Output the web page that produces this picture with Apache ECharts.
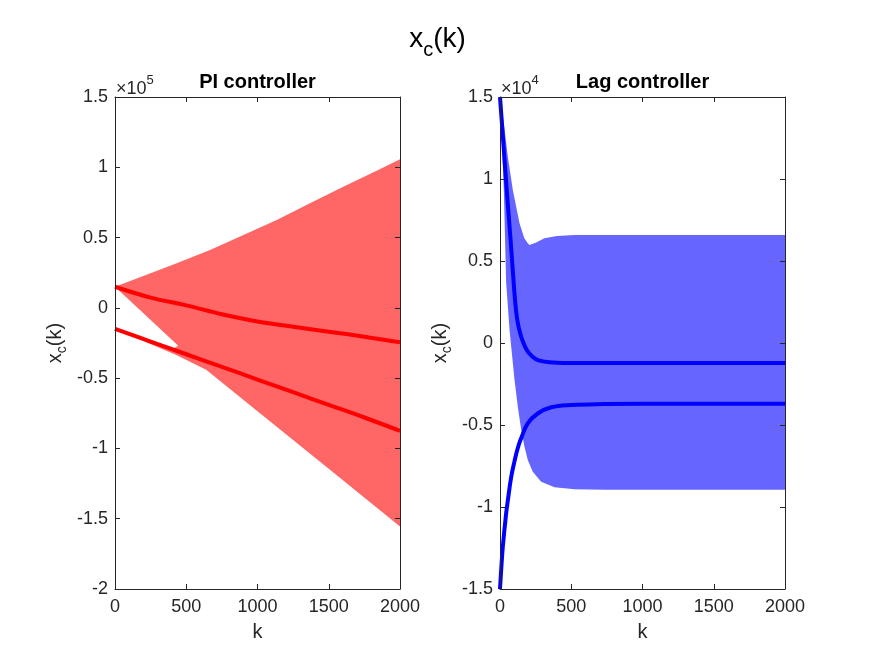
<!DOCTYPE html>
<html><head><meta charset="utf-8">
<script src="https://cdn.jsdelivr.net/npm/echarts@6/dist/echarts.min.js"></script>
<style>html,body{margin:0;padding:0;background:#fff}#c{width:875px;height:656px}</style>
</head><body><div id="c"></div>
<script>
// ---------- data ----------
const kTicks = ['0', '500', '1000', '1500', '2000'];
const piTicks = ['-2', '-1.5', '-1', '-0.5', '0', '0.5', '1', '1.5'];
const lagTicks = ['-1.5', '-1', '-0.5', '0', '0.5', '1', '1.5'];

// PI controller: two state trajectories
const piLineK = [0, 250, 500, 750, 1000, 1250, 1500, 1750, 2000];
const piLine1 = [15000, 7300, 1800, -4500, -9700, -13500, -17000, -20500, -24500];
const piLine2 = [-15000, -24000, -33000, -42000, -51000, -60000, -69000, -78000, -87500];
// PI controller: oscillation envelope (upper edge, then lower edge back to start)
const piUpperK = [0, 199, 433, 667, 901, 1135, 1368, 1602, 1836, 2000];
const piUpperV = [15000, 22700, 31700, 41200, 51800, 62500, 74400, 86200, 97600, 105700];
const piLowerK = [2000, 1500, 1000, 640, 430, 200, 0, 0, 200, 400, 444];
const piLowerV = [-155500, -114500, -73500, -44000, -33500, -23500, -16000, -15000, -22300, -29500, -27000];

// Lag controller: two state trajectories
const lagLine1K = [0, 25, 50, 75, 100, 115, 130, 150, 175, 200, 250, 300, 400, 600, 1000, 1500, 2000];
const lagLine1 = [15000, 12000, 9000, 6200, 3200, 1800, 1000, 350, -200, -580, -980, -1120, -1200, -1220, -1220, -1220, -1220];
const lagLine2K = [0, 10, 20, 43, 55, 78, 102, 125, 149, 195, 265, 359, 500, 733, 1000, 2000];
const lagLine2 = [-15000, -13600, -12400, -10400, -9600, -8200, -7200, -6400, -5800, -4900, -4300, -3920, -3780, -3720, -3700, -3700];
// Lag controller: oscillation envelope
const lagUpperK = [0, 27, 55, 90, 137, 170, 195, 207, 250, 312, 400, 523, 2000];
const lagUpperV = [15000, 13400, 11360, 9330, 7300, 6400, 6080, 5980, 6120, 6380, 6520, 6590, 6590];
const lagLowerK = [2000, 733, 523, 382, 289, 230, 195, 172, 149, 125, 102, 67, 43, 27, 13, 0];
const lagLowerV = [-8950, -8950, -8920, -8800, -8460, -7850, -7130, -6320, -5300, -3880, -2260, 790, 3700, 9300, 12400, 15000];

// ---------- helpers ----------
const FONT = 'Liberation Sans, Arial, Helvetica, sans-serif';
const AX = '#262626';
const pairs = (ks, vs) => ks.map((k, i) => [k, vs[i]]);
const piOutline = pairs(piUpperK, piUpperV).concat(pairs(piLowerK, piLowerV));
const lagOutline = pairs(lagUpperK, lagUpperV).concat(pairs(lagLowerK, lagLowerV));

const chart = echarts.init(document.getElementById('c'), null, {renderer: 'canvas'});

function xAx(grid, pos) {
  const bottom = pos === 'bottom';
  return {
    type: 'value', gridIndex: grid, position: pos, min: 0, max: 2000, interval: 500, z: 5,
    axisLine: {show: true, onZero: false, lineStyle: {color: AX, width: 1}},
    axisTick: {show: true, inside: true, length: 5, lineStyle: {color: AX}},
    axisLabel: {show: bottom, color: AX, fontSize: 18, fontFamily: FONT, margin: 9,
      formatter: v => kTicks[Math.round(v / 500)]},
    splitLine: {show: false},
    name: bottom ? 'k' : '', nameLocation: 'middle', nameGap: 33,
    nameTextStyle: {color: AX, fontSize: 20, fontFamily: FONT}
  };
}
const ylabRich = {
  a: {fontSize: 20, fontFamily: FONT, fontWeight: 'normal', color: AX, lineHeight: 22, verticalAlign: 'top'},
  s: {fontSize: 14, fontFamily: FONT, fontWeight: 'normal', color: AX, lineHeight: 14, padding: [10, 0, 0, 0], verticalAlign: 'top'}
};
function yAx(grid, pos, min, max, step, ticks) {
  const left = pos === 'left';
  return {
    type: 'value', gridIndex: grid, position: pos, min: min, max: max, interval: step, z: 5,
    axisLine: {show: true, onZero: false, lineStyle: {color: AX, width: 1}},
    axisTick: {show: true, inside: true, length: 5, lineStyle: {color: AX}},
    axisLabel: {show: left, color: AX, fontSize: 18, fontFamily: FONT, margin: 7,
      formatter: v => ticks[Math.round((v - min) / step)]},
    splitLine: {show: false},
    name: left ? '{a|x}{s|c}{a|(k)}' : '', nameLocation: 'middle', nameRotate: 90, nameGap: 48,
    nameTextStyle: {rich: ylabRich}
  };
}
function fill(xi, yi, outline, color) {
  return {
    type: 'custom', xAxisIndex: xi, yAxisIndex: yi, silent: true, z: 1,
    data: [[0, 0]],
    renderItem: (params, api) => ({
      type: 'polygon',
      shape: {points: outline.map(p => api.coord(p))},
      style: {fill: color}
    })
  };
}
function line(xi, yi, ks, vs, color) {
  return {
    type: 'line', xAxisIndex: xi, yAxisIndex: yi, data: pairs(ks, vs), z: 3,
    smooth: 0.4, symbol: 'none', silent: true, clip: false,
    lineStyle: {color: color, width: 4}
  };
}
const expRich = {
  a: {fontSize: 18, fontFamily: FONT, fontWeight: 'normal', color: AX, padding: [6, 0, 0, 0], verticalAlign: 'top'},
  s: {fontSize: 13, fontFamily: FONT, fontWeight: 'normal', color: AX, verticalAlign: 'top'}
};

chart.setOption({
  animation: false,
  backgroundColor: '#ffffff',
  title: [
    {text: '{a|x}{s|c}{a|(k)}', left: 437.5, top: 25, textAlign: 'center', padding: 0,
      textStyle: {fontWeight: 'normal', rich: {
        a: {fontSize: 28, fontFamily: FONT, fontWeight: 'normal', color: '#000', lineHeight: 30, verticalAlign: 'top'},
        s: {fontSize: 20, fontFamily: FONT, fontWeight: 'normal', color: '#000', lineHeight: 20, padding: [15, 0, 0, 0], verticalAlign: 'top'}
      }}},
    {text: 'PI controller', left: 257.5, top: 72, textAlign: 'center', padding: 0,
      textStyle: {fontSize: 20, fontWeight: 'bold', fontFamily: FONT, color: '#000'}},
    {text: 'Lag controller', left: 642.5, top: 72, textAlign: 'center', padding: 0,
      textStyle: {fontSize: 20, fontWeight: 'bold', fontFamily: FONT, color: '#000'}},
    {text: '{a|×10}{s|5}', left: 116, top: 74, padding: 0, textStyle: {fontWeight: 'normal', rich: expRich}},
    {text: '{a|×10}{s|4}', left: 501, top: 74, padding: 0, textStyle: {fontWeight: 'normal', rich: expRich}}
  ],
  grid: [
    {left: 115, top: 97, width: 285, height: 492},
    {left: 500, top: 97, width: 285, height: 492}
  ],
  xAxis: [xAx(0, 'bottom'), xAx(0, 'top'), xAx(1, 'bottom'), xAx(1, 'top')],
  yAxis: [
    yAx(0, 'left', -200000, 150000, 50000, piTicks),
    yAx(0, 'right', -200000, 150000, 50000, piTicks),
    yAx(1, 'left', -15000, 15000, 5000, lagTicks),
    yAx(1, 'right', -15000, 15000, 5000, lagTicks)
  ],
  series: [
    fill(0, 0, piOutline, '#FF6666'),
    line(0, 0, piLineK, piLine1, '#FF0000'),
    line(0, 0, piLineK, piLine2, '#FF0000'),
    fill(2, 2, lagOutline, '#6666FF'),
    line(2, 2, lagLine1K, lagLine1, '#0000FF'),
    line(2, 2, lagLine2K, lagLine2, '#0000FF')
  ]
});
</script></body></html>
